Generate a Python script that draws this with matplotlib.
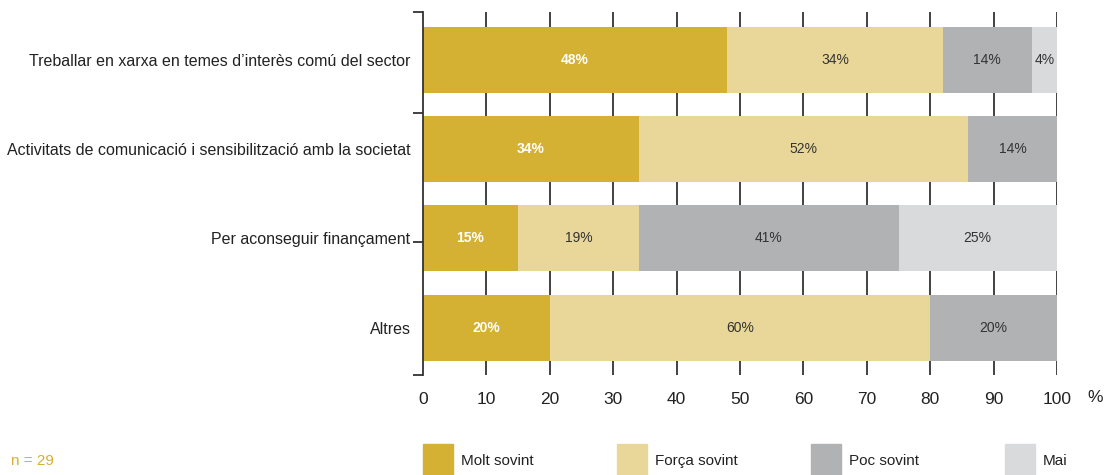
import matplotlib
matplotlib.use("Agg")
import matplotlib.pyplot as plt
from matplotlib.patches import Rectangle
import numpy as np

plt.rcParams['font.family'] = ['Liberation Sans', 'DejaVu Sans']

# data
categories = [
    "Treballar en xarxa en temes d’interès comú del sector",
    "Activitats de comunicació i sensibilització amb la societat",
    "Per aconseguir finançament",
    "Altres",
]
series = ["Molt sovint", "Força sovint", "Poc sovint", "Mai"]
molt = [48, 34, 15, 20]
forca = [34, 52, 19, 60]
poc = [14, 14, 41, 20]
mai = [4, 0, 25, 0]
xticks = [0, 10, 20, 30, 40, 50, 60, 70, 80, 90, 100]
n_text = "n = 29"

colors = ['#D4B033', '#E9D799', '#B1B2B4', '#D9DADC']
txt_colors = ['white', '#333333', '#333333', '#333333']

fig = plt.figure(figsize=(11.04, 4.75), dpi=100)
ax = fig.add_axes([423 / 1104, 1 - 375 / 475, 634 / 1104, 363 / 475])

y = np.arange(len(categories))
left = np.zeros(len(categories))
for vals, c, tc in zip([molt, forca, poc, mai], colors, txt_colors):
    vals = np.array(vals, dtype=float)
    ax.barh(y, vals, left=left, height=0.74, color=c, zorder=2)
    for yi, l, v in zip(y, left, vals):
        if v > 0:
            ax.text(l + v / 2, yi, f"{int(v)}%", ha='center', va='center',
                    color=tc, fontsize=10,
                    fontweight='bold' if tc == 'white' else 'normal', zorder=3)
    left += vals

ax.set_xlim(0, 100)
ax.set_ylim(3.53, -0.537)
ax.vlines(xticks[1:], 3.53, -0.537, color='#333333', lw=1.3, zorder=1)

for s in ['top', 'right', 'bottom']:
    ax.spines[s].set_visible(False)
ax.spines['left'].set_color('#333333')
ax.spines['left'].set_linewidth(1.3)

ax.set_xticks(xticks)
ax.tick_params(axis='x', length=0, pad=12, labelsize=12.5, labelcolor='#222222')
ax.set_yticks(y)
ax.set_yticklabels(categories, fontsize=11.5, color='#222222')
ax.tick_params(axis='y', which='major', length=0, pad=9)
ax.set_yticks([-0.537, 0.6, 2.04, 3.53], minor=True)
ax.tick_params(axis='y', which='minor', length=7, width=1.3, color='#333333')

fig.text(1095 / 1104, 1 - 397 / 475, "%", ha='center', va='center',
         fontsize=12.5, color='#222222')
fig.text(11 / 1104, 1 - 461 / 475, n_text, ha='left', va='center',
         fontsize=11, color='#D4B033')

# legend
lx = [423, 617, 811, 1005]
for x0, c, name in zip(lx, colors, series):
    fig.patches.append(Rectangle((x0 / 1104, 0), 30 / 1104, 31 / 475,
                                 transform=fig.transFigure, color=c))
    fig.text((x0 + 38) / 1104, 1 - 461 / 475, name, ha='left', va='center',
             fontsize=11, color='#222222')

fig.savefig("out.png", dpi=100)
